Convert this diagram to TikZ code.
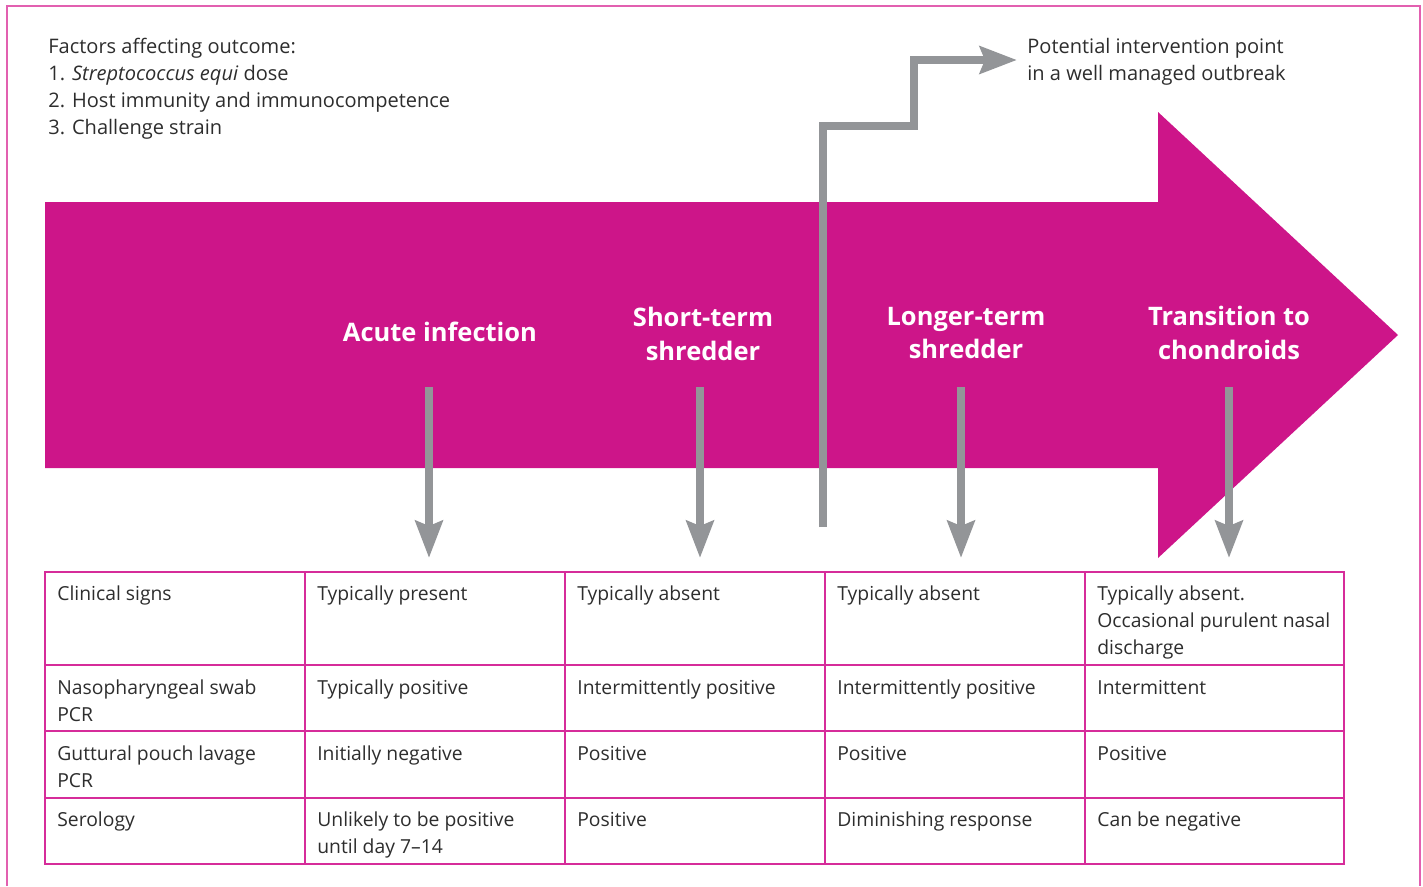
\documentclass[tikz,border=0pt]{standalone}
\usepackage{fontspec}
\setmainfont{Open Sans}
\usetikzlibrary{arrows.meta}
\definecolor{strangles}{RGB}{205,21,137}
\definecolor{gridpink}{RGB}{214,44,154}
\definecolor{framepink}{RGB}{226,96,176}
\definecolor{pointergrey}{RGB}{147,149,152}
\definecolor{txtgrey}{RGB}{45,45,45}

\begin{document}
\begin{tikzpicture}[x=0.02cm, y=-0.02cm,
    every node/.style={inner sep=0pt, text=txtgrey, font=\fontsize{11}{15.3}\selectfont},
    stage/.style={text=white, align=center, font=\fontsize{14.5}{19.3}\selectfont\bfseries},
    cell/.style={anchor=base west, align=left},
    note/.style={cell, font=\fontsize{11.4}{15.3}\selectfont},
    pointer/.style={draw=pointergrey, line width=0.16cm, line join=miter,
        -{Stealth[length=0.74cm, width=0.54cm, inset=0.1cm]}}]
    \useasboundingbox (0,0) rectangle (1423,886);

    % frame, open at the bottom
    \draw[framepink, line width=0.7pt] (7,886) -- (7,6) -- (1420,6) -- (1420,886);

    % base anchor sits on the last line
    \node[note] (FACTORS) at (48,134) {Factors affecting outcome:\\1. \textit{Streptococcus equi} dose\\2. Host immunity and immunocompetence\\3. Challenge strain};

    % big arrow
    \fill[strangles] (45,202) -- (1158,202) -- (1158,112) -- (1398,335) -- (1158,558) -- (1158,468) -- (45,468) -- cycle;

    \node[stage] (ACUTE) at (440,332) {Acute infection};
    \node[stage] (SHORT) at (703,334) {Short-term\\shredder};
    \node[stage] (LONGER) at (966,333) {Longer-term\\shredder};
    \node[stage] (TRANS) at (1229,333) {Transition to\\chondroids};

    \coordinate (a1) at (429,387);
    \coordinate (a2) at (429,558);
    \coordinate (b1) at (700,387);
    \coordinate (b2) at (700,558);
    \coordinate (c1) at (961,387);
    \coordinate (c2) at (961,558);
    \coordinate (d1) at (1229,387);
    \coordinate (d2) at (1229,558);

    \draw[pointer] (a1) -- (a2);
    \draw[pointer] (b1) -- (b2);
    \draw[pointer] (c1) -- (c2);
    \draw[pointer] (d1) -- (d2);

    % intervention point
    \node[note] (POINT) at (1027,80) {Potential intervention point\\in a well managed outbreak};
    \coordinate (p0) at (823,527);
    \coordinate (p1) at (1017,60);
    \draw[pointer] (p0) -- (823,126) -- (914,126) -- (914,60) -- (p1);

    % table
    \draw[gridpink, line width=0.7pt] (45,572) rectangle (1344,864);
    \draw[gridpink, line width=0.7pt] (45,665) -- (1344,665);
    \draw[gridpink, line width=0.7pt] (45,731) -- (1344,731);
    \draw[gridpink, line width=0.7pt] (45,798) -- (1344,798);
    \draw[gridpink, line width=0.7pt] (305,572) -- (305,864);
    \draw[gridpink, line width=0.7pt] (565,572) -- (565,864);
    \draw[gridpink, line width=0.7pt] (825,572) -- (825,864);
    \draw[gridpink, line width=0.7pt] (1085,572) -- (1085,864);

    \node[cell] (CS0) at (57,600) {Clinical signs};
    \node[cell] (CS1) at (317,600) {Typically present};
    \node[cell] (CS2) at (577,600) {Typically absent};
    \node[cell] (CS3) at (837,600) {Typically absent};
    \node[cell] (CS4) at (1097,654) {Typically absent.\\Occasional purulent nasal\\discharge};

    \node[cell] (NS0) at (57,721) {Nasopharyngeal swab\\PCR};
    \node[cell] (NS1) at (317,694) {Typically positive};
    \node[cell] (NS2) at (577,694) {Intermittently positive};
    \node[cell] (NS3) at (837,694) {Intermittently positive};
    \node[cell] (NS4) at (1097,694) {Intermittent};

    \node[cell] (GP0) at (57,787) {Guttural pouch lavage\\PCR};
    \node[cell] (GP1) at (317,760) {Initially negative};
    \node[cell] (GP2) at (577,760) {Positive};
    \node[cell] (GP3) at (837,760) {Positive};
    \node[cell] (GP4) at (1097,760) {Positive};

    \node[cell] (SE0) at (57,826) {Serology};
    \node[cell] (SE1) at (317,853) {Unlikely to be positive\\until day 7--14};
    \node[cell] (SE2) at (577,826) {Positive};
    \node[cell] (SE3) at (837,826) {Diminishing response};
    \node[cell] (SE4) at (1097,826) {Can be negative};
\end{tikzpicture}
\end{document}
